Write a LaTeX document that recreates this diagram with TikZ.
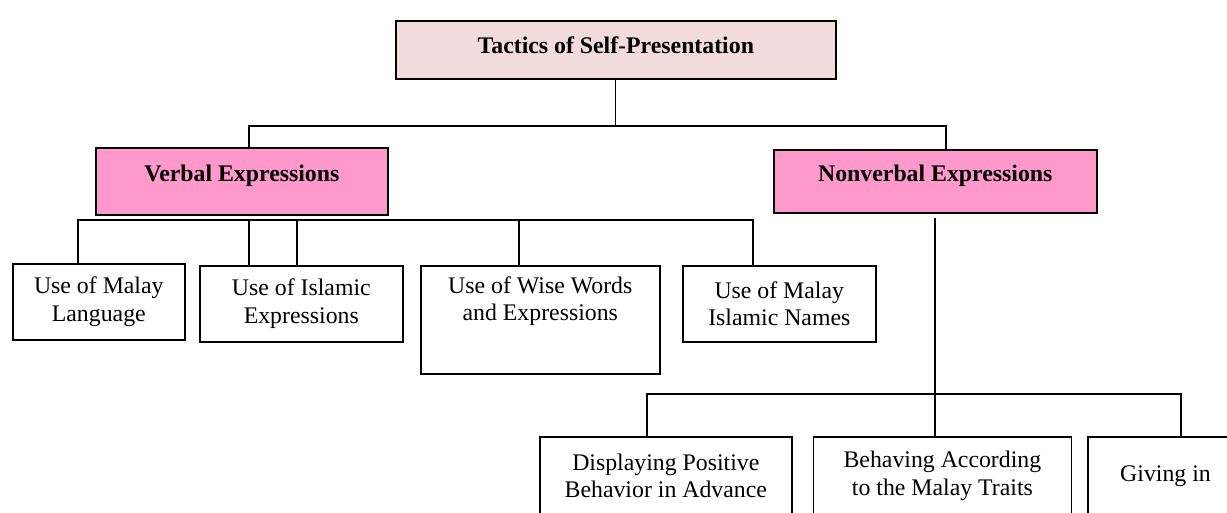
\documentclass[tikz,border=0pt]{standalone}
\usepackage{fontspec}
\setmainfont{Liberation Serif}
\usepackage{xcolor}
\usepackage{tikz}
\usetikzlibrary{positioning}
\definecolor{rootpink}{RGB}{242, 220, 219}
\definecolor{headpink}{RGB}{255, 153, 204}

\begin{document}
\begin{tikzpicture}[
  x=1pt, y=-1pt,
  root/.style  = {rectangle, draw, line width=1.6pt, fill=rootpink,
                  font=\fontsize{23.8}{27.5}\selectfont\bfseries,
                  text height=16pt, text depth=8pt},
  head/.style  = {rectangle, draw, line width=1.6pt, fill=headpink,
                  font=\fontsize{23.8}{27.5}\selectfont\bfseries,
                  text height=16pt, text depth=15pt},
  sub/.style   = {rectangle, draw, line width=1.6pt, fill=white,
                  font=\fontsize{23.8}{27.5}\selectfont, align=center},
  link/.style  = {line width=1.3pt},
]
  \useasboundingbox (0,0) rectangle (1227,512);

  % Root
  \node[root, minimum width=440pt, minimum height=58pt, anchor=north west] (tactics) at (395,20) {Tactics of Self-Presentation};

  % Verbal / Nonverbal
  \node[head, minimum width=292pt, minimum height=67pt, anchor=north west] (verbal) at (95,147) {Verbal Expressions};
  \node[head, minimum width=323pt, minimum height=63pt, anchor=north west] (nonverbal) at (773,149) {Nonverbal Expressions};

  % Verbal branches
  \node[sub, minimum width=172pt, minimum height=76pt, anchor=north west] (malay) at (12,263) {Use of Malay\\Language};
  \node[sub, minimum width=203pt, minimum height=76pt, anchor=north west] (islamic) at (199,265) {Use of Islamic\\Expressions};
  \node[sub, minimum width=239pt, minimum height=108pt, anchor=north west] (wise) at (420,265) {};
  \node[font=\fontsize{23.8}{27.5}\selectfont, align=center, below=8pt of wise.north] (wisetext) {Use of Wise Words\\and Expressions};
  \node[sub, minimum width=193pt, minimum height=76pt, anchor=north west] (names) at (682,265) {Use of Malay\\Islamic Names};

  % Nonverbal branches
  \node[sub, minimum width=252pt, minimum height=78pt, anchor=north west] (positive) at (539,436) {Displaying Positive\\Behavior in Advance};
  \node[sub, minimum width=258pt, minimum height=78pt, right=20pt of positive] (traits) {Behaving According\\to the Malay Traits};
  \node[sub, minimum width=155pt, minimum height=78pt, right=15pt of traits] (giving) {Giving in};

  % Junctions
  \coordinate (tl) at (249,126);
  \coordinate (tr) at (946,126);
  \coordinate (vl) at (78,220);
  \coordinate (vr) at (753,220);
  \coordinate (v2) at (249,220);
  \coordinate (v3) at (297,220);
  \coordinate (v4) at (519,220);
  \coordinate (nv) at (935,218);
  \coordinate (nl) at (647,394);
  \coordinate (nr) at (1181,394);

  % Lines
  \draw[link] (tactics.south) -- (tactics.south |- tl);
  \draw[link] (verbal.north -| tl) -- (tl) -- (tr) -- (nonverbal.north -| tr);
  \draw[link] (malay.north -| vl) -- (vl) -- (vr) -- (names.north -| vr);
  \foreach \c/\n in {v2/islamic, v3/islamic, v4/wise}
    \draw[link] (\c) -- (\n.north -| \c);
  \draw[link] (nv) -- (traits.north -| nv);
  \draw[link] (positive.north -| nl) -- (nl) -- (nr) -- (giving.north -| nr);
\end{tikzpicture}
\end{document}
